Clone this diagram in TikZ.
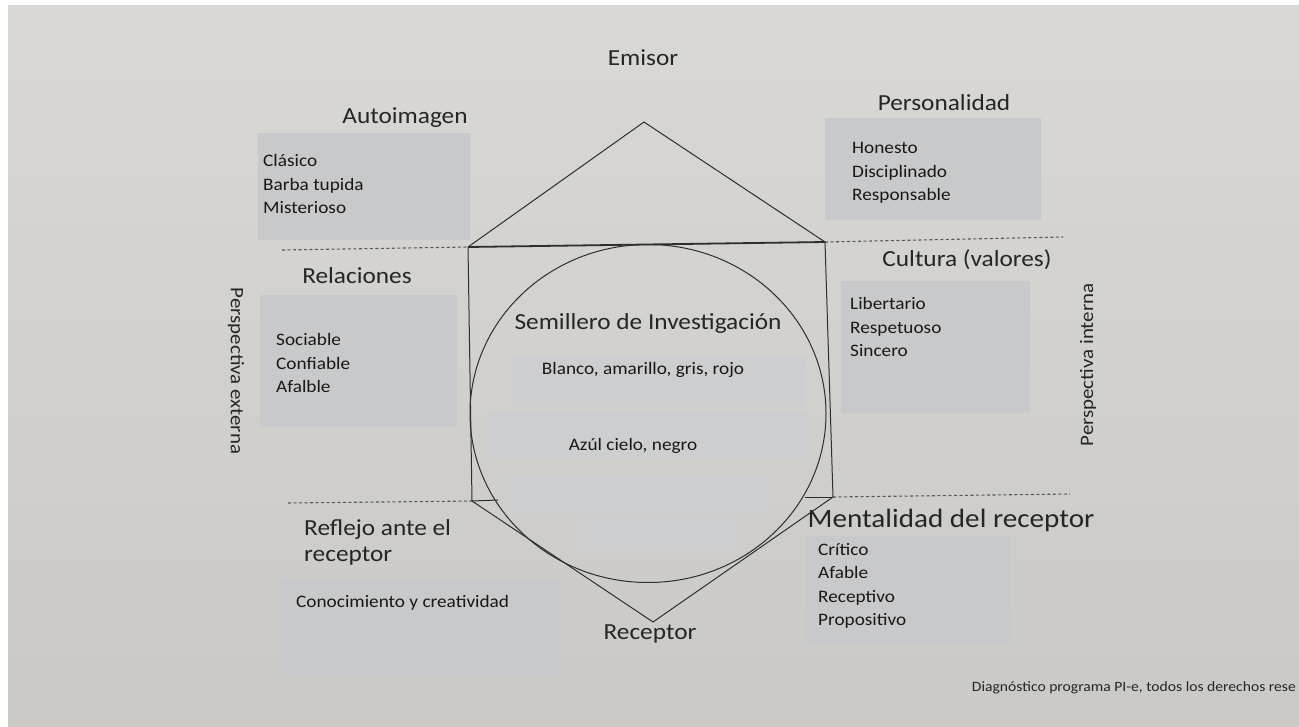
\documentclass[tikz,border=0pt]{standalone}
\usepackage{fontspec}
\setmainfont{Carlito}[FakeStretch=1.1]
\definecolor{paperT}{HTML}{DAD8D4}
\definecolor{paperB}{HTML}{CBC9C5}
\definecolor{boxgray}{HTML}{C8C9CB}
\definecolor{boxlight}{HTML}{CDCED0}
\definecolor{ink}{HTML}{181818}
\definecolor{headink}{HTML}{262626}
\definecolor{lineink}{HTML}{2E2E2E}
\tikzset{
  graybox/.style={fill=boxgray, draw=none, inner sep=0pt, anchor=north west},
  lightbox/.style={fill=boxlight, draw=none, inner sep=0pt, anchor=north west},
  itemtext/.style={text=ink, inner sep=0pt, align=left, anchor=west,
    font=\fontsize{17.5}{23.5}\selectfont},
  heading/.style={text=headink, inner sep=0pt, font=\fontsize{23}{26}\selectfont},
  persp/.style={text=headink, inner sep=0pt, font=\fontsize{19}{22}\selectfont},
  prism/.style={draw=lineink, line width=1pt, line join=round},
  topedge/.style={draw=lineink, line width=1.8pt},
  sepline/.style={draw=lineink!80, line width=1.1pt, dash pattern=on 3pt off 2.5pt}
}
\begin{document}
\begin{tikzpicture}[x=1pt,y=-1pt]
\useasboundingbox (0,0) rectangle (1299,726);
\fill[white] (0,0) rectangle (1299,726);
\shade[top color=paperT, bottom color=paperB] (8,5) rectangle (1299,726);

% prism coordinates
\coordinate (A) at (644,122);
\coordinate (TL) at (468,247);
\coordinate (TR) at (825,242);
\coordinate (BL) at (472,501);
\coordinate (BR) at (833,497);
\coordinate (V) at (653,622);
\coordinate (bl2) at (498,500);
\coordinate (br2) at (805,497);
\coordinate (C) at (648,413.5);
\coordinate (dTL) at (282,250);
\coordinate (dTR) at (1063,237);
\coordinate (dBL) at (288,503);
\coordinate (dBR) at (1070,494);

% separator lines
\draw[sepline] (dTL) -- (TL);
\draw[sepline] (TR) -- (dTR);
\draw[sepline] (dBL) -- (BL);
\draw[sepline] (BR) -- (dBR);

% prism
\draw[prism] (TL) -- (A) -- (TR);
\draw[prism] (TL) -- (BL);
\draw[prism] (TR) -- (BR);
\draw[prism] (BL) -- (V) -- (BR);
\draw[prism] (BL) -- (bl2);
\draw[prism] (br2) -- (BR);
\draw[prism] (C) ellipse [x radius=178, y radius=169];
\draw[topedge] (TL) -- (TR);

% gray boxes
\node[graybox, minimum width=212, minimum height=107] (bAuto) at (258,133) {};
\node[graybox, minimum width=216, minimum height=102] (bPers) at (825,118) {};
\node[graybox, minimum width=197, minimum height=132] (bRel) at (260,295) {};
\node[graybox, minimum width=189, minimum height=132] (bCult) at (841,281) {};
\node[lightbox, minimum width=294, minimum height=50] (bC1) at (512,357) {};
\node[lightbox, minimum width=318, minimum height=46] (bC2) at (488,412) {};
\node[lightbox, minimum width=257, minimum height=38] (bC3) at (511,475) {};
\node[lightbox, minimum width=159, minimum height=36] (bC4) at (577,515) {};
\node[graybox, minimum width=204, minimum height=109] (bMent) at (806,536) {};
\node[graybox, minimum width=281, minimum height=98] (bRefl) at (279,578) {};

% box texts
\node[itemtext] (tAuto) at (263,184) {Clásico\\Barba tupida\\Misterioso};
\node[itemtext] (tPers) at (852,173) {Honesto\\Disciplinado\\Responsable};
\node[itemtext] (tRel) at (276,363) {Sociable\\Confiable\\Afalble};
\node[itemtext] (tCult) at (850,327) {Libertario\\Respetuoso\\Sincero};
\node[itemtext] (tMent) at (818,586) {Crítico\\Afable\\Receptivo\\Propositivo};
\node[itemtext] (tRefl) at (296,603) {Conocimiento y creatividad};
\node[itemtext, anchor=center] (tC1) at (643,370) {Blanco, amarillo, gris, rojo};
\node[itemtext, anchor=center] (tC2) at (633,446) {Azúl cielo, negro};

% headings
\node[heading] (hEmisor) at (643,58) {Emisor};
\node[heading] (hAuto) at (405,118) {Autoimagen};
\node[heading] (hPers) at (944,103) {Personalidad};
\node[heading] (hRel) at (357,276) {Relaciones};
\node[heading] (hCult) at (967,260) {Cultura (valores)};
\node[heading] (hSem) at (648,323) {Semillero de Investigación};
\node[heading, align=left, anchor=west] (hRefl) at (304,542) {Reflejo ante el\\receptor};
\node[heading, font=\fontsize{26.5}{29}\selectfont] (hMent) at (951,520) {Mentalidad del receptor};
\node[heading] (hRec) at (650,634) {Receptor};

% side labels
\node[persp, rotate=-90] (pExt) at (236,371) {Perspectiva externa};
\node[persp, rotate=90] (pInt) at (1088,365) {Perspectiva interna};

% footer (as printed, cut at the page edge)
\node[text=headink, inner sep=0pt, anchor=east, font=\fontsize{14.2}{16}\selectfont] (foot) at (1296,688) {Diagnóstico programa PI-e, todos los derechos rese};
\end{tikzpicture}
\end{document}
